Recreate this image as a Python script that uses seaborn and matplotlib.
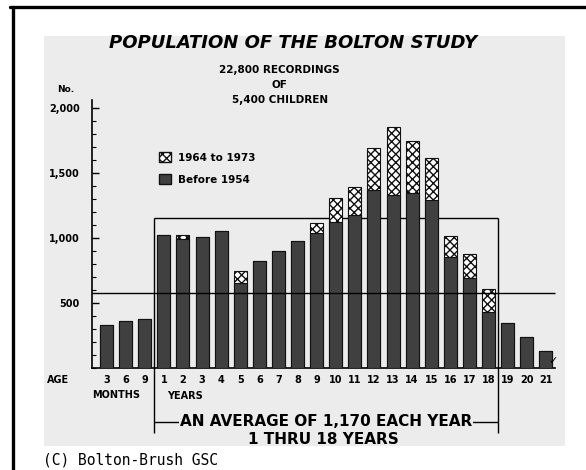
import pandas as pd
import seaborn as sns
import matplotlib.pyplot as plt
from matplotlib.patches import Rectangle, Patch
from matplotlib.lines import Line2D
from matplotlib.ticker import MultipleLocator

# ages: 3, 6, 9 months then 1..21 years
ages = ['3 mo', '6 mo', '9 mo'] + [str(i) for i in range(1, 22)]
age_labels = ['3', '6', '9'] + [str(i) for i in range(1, 22)]
total = [333, 364, 379, 1025, 1025, 1012, 1056, 751, 828, 902, 982, 1120,
         1308, 1397, 1692, 1858, 1751, 1615, 1018, 877, 610, 351, 243, 135]
before_1954 = [333, 364, 379, 1025, 995, 1012, 1056, 656, 828, 902, 982, 1038,
               1128, 1179, 1372, 1333, 1345, 1295, 858, 692, 435, 351, 243, 135]
overall_avg = 577
avg_1_to_18 = 1154
y_ticks = [500, 1000, 1500, 2000]
y_tick_labels = ['500', '1,000', '1,500', '2,000']

df = pd.DataFrame({'age': ages, 'total': total, 'before': before_1954})

W, H = 586, 470


def fx(px):
    return px / W


def fy(py):
    return 1 - py / H


sns.set_theme(style='white')
plt.rcParams['font.family'] = ['DejaVu Sans']
plt.rcParams['text.color'] = 'black'
plt.rcParams['xtick.color'] = 'black'
plt.rcParams['ytick.color'] = 'black'
plt.rcParams['xtick.labelcolor'] = 'black'
plt.rcParams['ytick.labelcolor'] = 'black'

fig = plt.figure(figsize=(W / 100, H / 100), dpi=100)
fig.patch.set_facecolor('white')

# gray paper panel and black frame
fig.add_artist(Rectangle((fx(44), fy(446)), fx(565) - fx(44), fy(36) - fy(446),
                         transform=fig.transFigure, facecolor='#ececec',
                         edgecolor='none', zorder=-5))
fig.add_artist(Line2D([fx(10), fx(586)], [fy(7), fy(7)], color='black', lw=2.4))
fig.add_artist(Line2D([fx(13), fx(13)], [fy(7), fy(470)], color='black', lw=2.4))

ax = fig.add_axes([fx(92), fy(368.3), fx(560) - fx(92), fy(100) - fy(368.3)])
ax.set_facecolor('none')

sns.barplot(data=df, x='age', y='total', order=ages, color='white', saturation=1,
            width=0.68, edgecolor='#111111', linewidth=0.8, hatch='xxxx',
            errorbar=None, ax=ax, zorder=2)
sns.barplot(data=df, x='age', y='before', order=ages, color='#404040', saturation=1,
            width=0.68, edgecolor='#111111', linewidth=0.8,
            errorbar=None, ax=ax, zorder=3)

ax.set_xlim(-0.76, 23.74)
ax.set_ylim(0, 2064)
ax.set_xlabel('')
ax.set_ylabel('')

for s in ['top', 'right']:
    ax.spines[s].set_visible(False)
for s in ['left', 'bottom']:
    ax.spines[s].set_color('black')
    ax.spines[s].set_linewidth(1.2)
ax.spines['bottom'].set_bounds(-0.76, 23.48)

ax.set_yticks(y_ticks)
ax.set_yticklabels(y_tick_labels, fontsize=7, fontweight='bold')
ax.yaxis.set_minor_locator(MultipleLocator(100))
ax.tick_params(axis='y', which='major', direction='in', length=5, width=1,
               color='black', pad=9, left=True)
ax.tick_params(axis='y', which='minor', direction='in', length=3, width=0.8,
               color='black', left=True)
ax.set_xticks(range(len(ages)))
ax.set_xticklabels(age_labels, fontsize=7, fontweight='bold')
ax.tick_params(axis='x', length=0, pad=5)

# average lines and bracket
ax.hlines(overall_avg, -0.76, 23.48, color='black', lw=1, zorder=4)
ax.hlines(avg_1_to_18, 2.5, 20.5, color='black', lw=1, zorder=1)
ax.vlines([2.5, 20.5], -498, avg_1_to_18, color='black', lw=1, zorder=1,
          clip_on=False)
ax.hlines(-413, 2.5, 20.5, color='black', lw=1, clip_on=False)
ax.text(11.5, -413, 'AN AVERAGE OF 1,170 EACH YEAR', ha='center', va='center',
        fontsize=11, fontweight='bold', clip_on=False,
        bbox=dict(facecolor='#ececec', edgecolor='none', pad=0.5))
ax.text(23.4, 20, '\u2713', fontsize=8, ha='center', va='bottom', fontweight='bold')

# legend
handles = [Patch(facecolor='white', edgecolor='#111111', hatch='xxxx', label='1964 to 1973'),
           Patch(facecolor='#404040', edgecolor='#111111', label='Before 1954')]
fig.legend(handles=handles, loc='upper left', bbox_to_anchor=(fx(150), fy(143)),
           frameon=False, handlelength=1.1, handleheight=1.1,
           labelspacing=1.1, handletextpad=0.7, labelcolor='black',
           prop={'weight': 'bold', 'size': 7.5})

# titles and labels
fig.text(fx(293), fy(43), 'POPULATION OF THE BOLTON STUDY', ha='center', va='center',
         fontsize=13, fontweight='bold', fontstyle='italic')
fig.text(fx(279), fy(70), '22,800 RECORDINGS', ha='center', va='center',
         fontsize=7.5, fontweight='bold')
fig.text(fx(279), fy(85), 'OF', ha='center', va='center', fontsize=7.5, fontweight='bold')
fig.text(fx(280), fy(100), '5,400 CHILDREN', ha='center', va='center',
         fontsize=7.5, fontweight='bold')
fig.text(fx(66), fy(90), 'No.', ha='center', va='center', fontsize=6.5, fontweight='bold')
fig.text(fx(58), fy(380), 'AGE', ha='center', va='center', fontsize=7, fontweight='bold')
fig.text(fx(116), fy(395), 'MONTHS', ha='center', va='center', fontsize=7, fontweight='bold')
fig.text(fx(167), fy(396), 'YEARS', ha='left', va='center', fontsize=7, fontweight='bold')
fig.text(fx(323), fy(440), '1 THRU 18 YEARS', ha='center', va='center',
         fontsize=11, fontweight='bold')
fig.text(fx(43), fy(460), '(C) Bolton-Brush GSC', ha='left', va='center',
         fontsize=10.5, family='DejaVu Sans Mono')

fig.savefig('out.png', dpi=100)
